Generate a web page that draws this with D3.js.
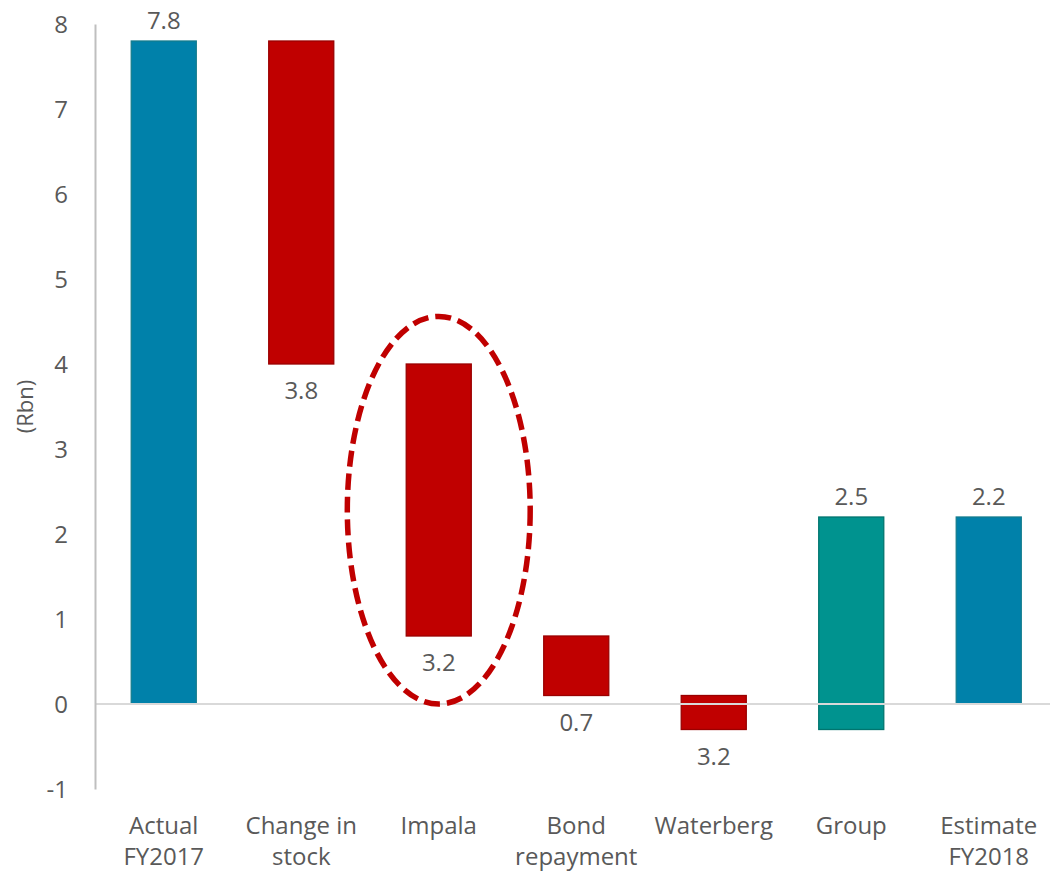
<!DOCTYPE html>
<html>
<head>
<meta charset="utf-8">
<script src="https://cdn.jsdelivr.net/npm/d3@7"></script>
<style>
  html, body { margin: 0; padding: 0; background: #ffffff; }
  svg { display: block; font-family: "Open Sans", "Noto Sans", sans-serif; }
</style>
</head>
<body>
<svg id="chart" width="1050" height="873"></svg>
<script>
// ---- data ----
const categories = [["Actual", "FY2017"], ["Change in", "stock"], ["Impala"], ["Bond", "repayment"], ["Waterberg"], ["Group"], ["Estimate", "FY2018"]];
const barStart = [0, 7.8, 4.0, 0.8, 0.1, -0.3, 0];
const barEnd = [7.8, 4.0, 0.8, 0.1, -0.3, 2.2, 2.2];
const valueLabels = ["7.8", "3.8", "3.2", "0.7", "3.2", "2.5", "2.2"];
const barKinds = ["total", "decrease", "decrease", "decrease", "decrease", "increase", "total"];
const yTicks = [-1, 0, 1, 2, 3, 4, 5, 6, 7, 8];
const yTickLabels = ["-1", "0", "1", "2", "3", "4", "5", "6", "7", "8"];
const yTitle = "(Rbn)";
// annotation ellipse (data units)
const highlightCategory = 2;
const highlightYRange = [0, 4.56];

// ---- layout ----
const svg = d3.select("#chart");
const colors = { total: "#0081AA", decrease: "#C00000", increase: "#00938F" };
const strokes = { total: "#137c8e", decrease: "#9a0000", increase: "#00756f" };
const textColor = "#595959";

const y = d3.scaleLinear().domain([-1, 8]).range([789, 24]);
const x = d3.scaleBand()
  .domain(d3.range(categories.length))
  .range([95, 1057.5])
  .paddingInner(0.527)
  .paddingOuter(0.2635);

// bars
svg.append("g").selectAll("rect")
  .data(d3.range(categories.length))
  .join("rect")
  .attr("x", i => x(i))
  .attr("width", x.bandwidth())
  .attr("y", i => y(Math.max(barStart[i], barEnd[i])))
  .attr("height", i => Math.abs(y(barStart[i]) - y(barEnd[i])))
  .attr("fill", i => colors[barKinds[i]])
  .attr("stroke", i => strokes[barKinds[i]])
  .attr("stroke-width", 1.3);

// zero line (over bars)
svg.append("line")
  .attr("x1", 95).attr("x2", 1050)
  .attr("y1", y(0)).attr("y2", y(0))
  .attr("stroke", "#d9d9d9").attr("stroke-width", 2);

// y axis
const yAxis = d3.axisLeft(y).tickValues(yTicks).tickSize(0).tickPadding(27)
  .tickFormat(d => yTickLabels[yTicks.indexOf(d)]);
const gy = svg.append("g").attr("transform", "translate(95,0)").call(yAxis);
gy.select(".domain").attr("stroke", "#bfbfbf").attr("stroke-width", 2);
gy.selectAll("text")
  .attr("fill", textColor)
  .attr("font-size", 24)
  .attr("font-family", "'Open Sans', sans-serif")
  .attr("dy", "0.36em");

// y title
svg.append("text")
  .attr("transform", `translate(33,${y(3.5)}) rotate(-90)`)
  .attr("text-anchor", "middle")
  .attr("fill", textColor)
  .attr("font-size", 22)
  .text(yTitle);

// category labels
const catG = svg.append("g");
categories.forEach((lines, i) => {
  const t = catG.append("text")
    .attr("text-anchor", "middle")
    .attr("fill", textColor)
    .attr("font-size", 24);
  lines.forEach((ln, k) => {
    t.append("tspan")
      .attr("x", x(i) + x.bandwidth() / 2)
      .attr("y", 834 + k * 31)
      .text(ln);
  });
});

// value labels
svg.append("g").selectAll("text")
  .data(d3.range(categories.length))
  .join("text")
  .attr("x", i => x(i) + x.bandwidth() / 2)
  .attr("y", i => barKinds[i] === "decrease"
      ? y(Math.min(barStart[i], barEnd[i])) + 35
      : y(Math.max(barStart[i], barEnd[i])) - 12)
  .attr("text-anchor", "middle")
  .attr("fill", textColor)
  .attr("font-size", 24)
  .text(i => valueLabels[i]);

// highlight ellipse
const cy = (y(highlightYRange[0]) + y(highlightYRange[1])) / 2;
const ry = Math.abs(y(highlightYRange[0]) - y(highlightYRange[1])) / 2;
svg.append("ellipse")
  .attr("cx", x(highlightCategory) + x.bandwidth() / 2)
  .attr("cy", cy)
  .attr("rx", x.step() * 0.665)
  .attr("ry", ry)
  .attr("fill", "none")
  .attr("stroke", "#C00000")
  .attr("stroke-width", 5.5)
  .attr("stroke-dasharray", "16,7");
</script>
</body>
</html>
